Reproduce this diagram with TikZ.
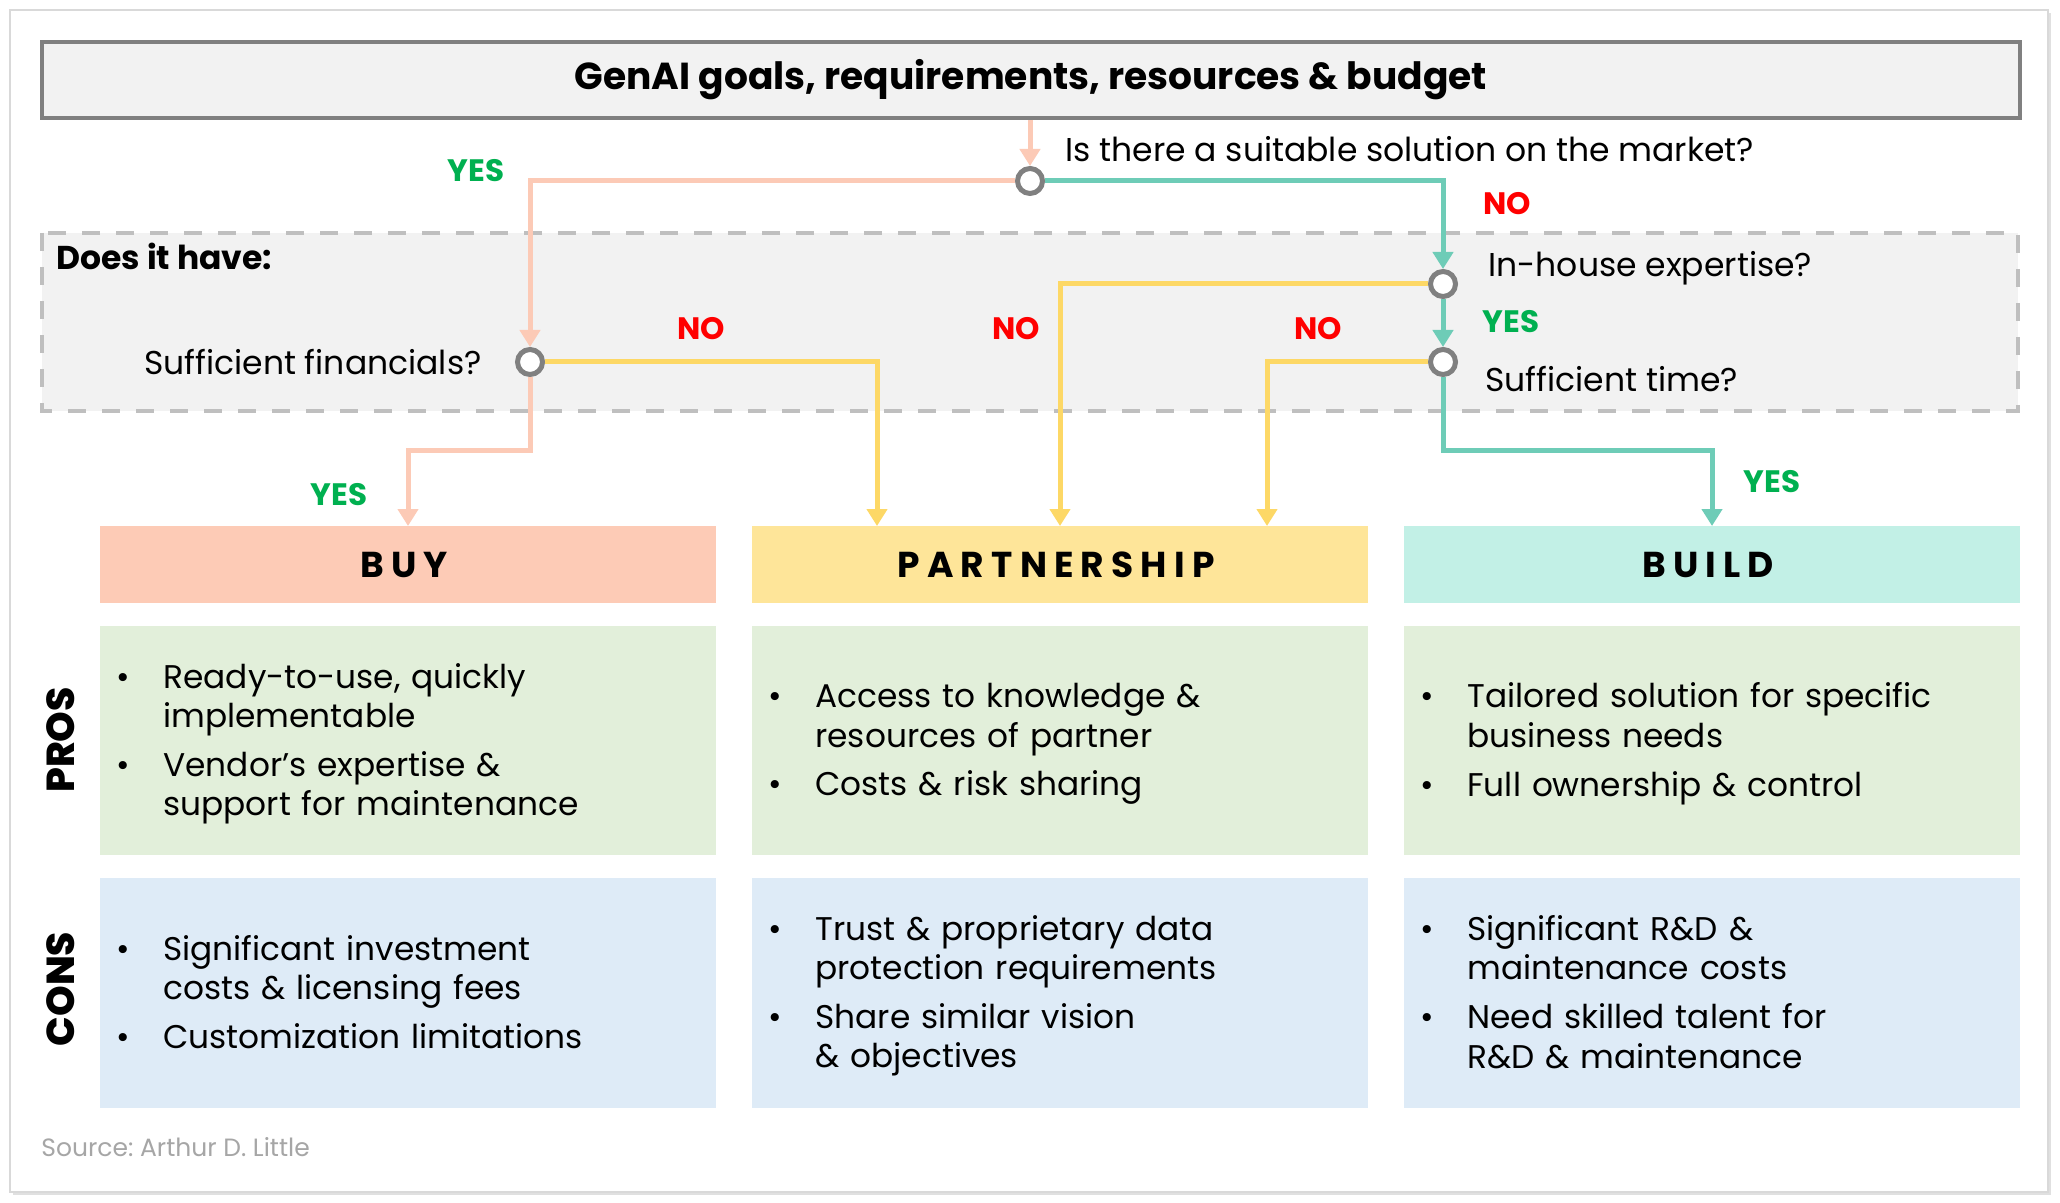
\documentclass[tikz,border=0pt]{standalone}
\usepackage{fontspec}
\setmainfont{Poppins}
\newfontfamily\catfont[LetterSpace=20]{Poppins}
\newfontfamily\heavyfont{Poppins ExtraBold}
\usetikzlibrary{arrows.meta}
\definecolor{salmonline}{HTML}{FCCAB6}
\definecolor{tealline}{HTML}{6ECCB7}
\definecolor{yellowline}{HTML}{FDD866}
\definecolor{buyfill}{HTML}{FDCBB6}
\definecolor{partfill}{HTML}{FEE599}
\definecolor{buildfill}{HTML}{C2F0E6}
\definecolor{prosfill}{HTML}{E2EFDA}
\definecolor{consfill}{HTML}{DEEBF7}
\definecolor{panel}{HTML}{F2F2F2}
\definecolor{framegray}{HTML}{808080}
\definecolor{dashgray}{HTML}{BFBFBF}
\definecolor{yesgreen}{HTML}{00B050}
\definecolor{nored}{HTML}{FF0000}
\definecolor{srcgray}{HTML}{A6A6A6}
\frenchspacing
\newcommand{\itemlist}[1]{%
  \begin{list}{\textbullet}{\setlength{\leftmargin}{23.5pt}%
    \setlength{\labelwidth}{10pt}\setlength{\labelsep}{13.5pt}%
    \setlength{\itemsep}{4.5pt}\setlength{\parsep}{0pt}%
    \setlength{\topsep}{0pt}\setlength{\partopsep}{0pt}%
    \renewcommand{\makelabel}[1]{##1\hfil}}#1\end{list}}
\begin{document}
\begin{tikzpicture}[x=0.5pt,y=-0.5pt,line join=miter,
  flow/.style={line width=2.5pt,-{Triangle[width=10pt,length=8.5pt]}},
  dec/.style={circle,draw=framegray,line width=2.5pt,fill=white,minimum size=12.5pt,inner sep=0pt},
  ask/.style={inner sep=0pt,font=\fontsize{16.5}{19}\selectfont},
  yes/.style={inner sep=0pt,text=yesgreen,font=\bfseries\fontsize{15.5}{18}\selectfont},
  no/.style={inner sep=0pt,text=nored,font=\bfseries\fontsize{15.5}{18}\selectfont},
  cat/.style={minimum width=308pt,minimum height=38.5pt,inner sep=0pt,outer sep=0pt,font=\catfont\bfseries\fontsize{18}{20}\selectfont},
  probox/.style={fill=prosfill,minimum width=308pt,minimum height=114.5pt,inner sep=0pt},
  conbox/.style={fill=consfill,minimum width=308pt,minimum height=115pt,inner sep=0pt},
  pts/.style={anchor=west,inner sep=0pt,text width=290pt,font=\fontsize{16.4}{19.8}\selectfont},
  side/.style={rotate=90,inner sep=0pt,font=\heavyfont\fontsize{19.5}{21}\selectfont}]
\useasboundingbox (0,0) rectangle (2060,1203);
\fill[white] (0,0) rectangle (2060,1203);
\fill[black!12] (13,13) rectangle (2051,1195);
\draw[black!15,fill=white,line width=0.75pt] (10,10) rectangle (2048,1192);

\node[draw=framegray,fill=panel,line width=2pt,minimum width=989pt,minimum height=38pt,inner sep=0pt,
  font=\bfseries\fontsize{18.8}{21}\selectfont] (title) at (1031,80) {GenAI goals, requirements, resources \& budget};
\draw[dashgray,fill=panel,line width=2pt,dash pattern=on 9pt off 8pt] (42,233) rectangle (2018,411);
\node[anchor=base west,inner sep=0pt,font=\bfseries\fontsize{16.5}{18}\selectfont] (have) at (56,270) {Does it have:};

\node[dec] (mkt) at (1030,181) {};
\node[dec] (fin) at (530,362) {};
\node[dec] (inh) at (1443,284) {};
\node[dec] (tim) at (1443,362) {};

\node[ask,anchor=base west] (qmkt) at (1065,162) {Is there a suitable solution on the market?};
\node[ask,anchor=base east] (qfin) at (482,375) {Sufficient financials?};
\node[ask,anchor=base west] (qinh) at (1488,277) {In-house expertise?};
\node[ask,anchor=base west] (qtim) at (1485,392) {Sufficient time?};

\node[cat,fill=buyfill] (buy) at (408,564.5) {BUY\kern3.9pt};
\node[cat,fill=partfill] (part) at (1060,564.5) {PARTNERSHIP\kern3.9pt};
\node[cat,fill=buildfill] (build) at (1712,564.5) {BUILD\kern3.9pt};

\coordinate (pa) at (877,526);
\coordinate (pc) at (1267,526);
\coordinate (buyk) at (408,450);
\coordinate (bldk) at (1712,450);

\draw[flow,salmonline] (title.south -| mkt) -- (mkt.north);
\draw[flow,salmonline] (mkt.west) -| (fin.north);
\draw[flow,salmonline] (fin.south) |- (buyk) -- (buy.north);
\draw[flow,tealline] (mkt.east) -| (inh.north);
\draw[flow,tealline] (inh.south) -- (tim.north);
\draw[flow,tealline] (tim.south) |- (bldk) -- (build.north);
\draw[flow,yellowline] (fin.east) -| (pa);
\draw[flow,yellowline] (inh.west) -| (part.north);
\draw[flow,yellowline] (tim.west) -| (pc);

\node[yes,anchor=base] (y1) at (476,182) {YES};
\node[no,anchor=base] (n1) at (1507,215) {NO};
\node[no,anchor=base] (n2) at (701,340) {NO};
\node[no,anchor=base] (n3) at (1016,340) {NO};
\node[no,anchor=base] (n4) at (1318,340) {NO};
\node[yes,anchor=base] (y2) at (1511,333) {YES};
\node[yes,anchor=base] (y3) at (339,505) {YES};
\node[yes,anchor=base] (y4) at (1772,492) {YES};

\node[probox] (buypro) at (408,740.5) {};
\node[probox] (partpro) at (1060,740.5) {};
\node[probox] (buildpro) at (1712,740.5) {};
\node[conbox] (buycon) at (408,993) {};
\node[conbox] (partcon) at (1060,993) {};
\node[conbox] (buildcon) at (1712,993) {};

\node[pts] at (116,736.5) {\itemlist{\item Ready-to-use, quickly\\implementable
  \item Vendor’s expertise \&\\support for maintenance}};
\node[pts] at (768,736.5) {\itemlist{\item Access to knowledge \&\\resources of partner
  \item Costs \& risk sharing}};
\node[pts] at (1420,736.5) {\itemlist{\item Tailored solution for specific\\business needs
  \item Full ownership \& control}};
\node[pts] at (116,984.5) {\itemlist{\item Significant investment\\costs \& licensing fees
  \item Customization limitations}};
\node[pts] at (768,988.5) {\itemlist{\item Trust \& proprietary data\\protection requirements
  \item Share similar vision\\\& objectives}};
\node[pts] at (1420,984.5) {\itemlist{\item Significant R\&D \&\\maintenance costs
  \item Need skilled talent for\\R\&D \& maintenance}};

\node[side] (pros) at (61,740) {PROS};
\node[side] (cons) at (61,989) {CONS};

\node[anchor=base west,inner sep=0pt,text=srcgray,font=\fontsize{12.5}{14}\selectfont] (src) at (41,1156) {Source: Arthur D. Little};
\end{tikzpicture}
\end{document}
